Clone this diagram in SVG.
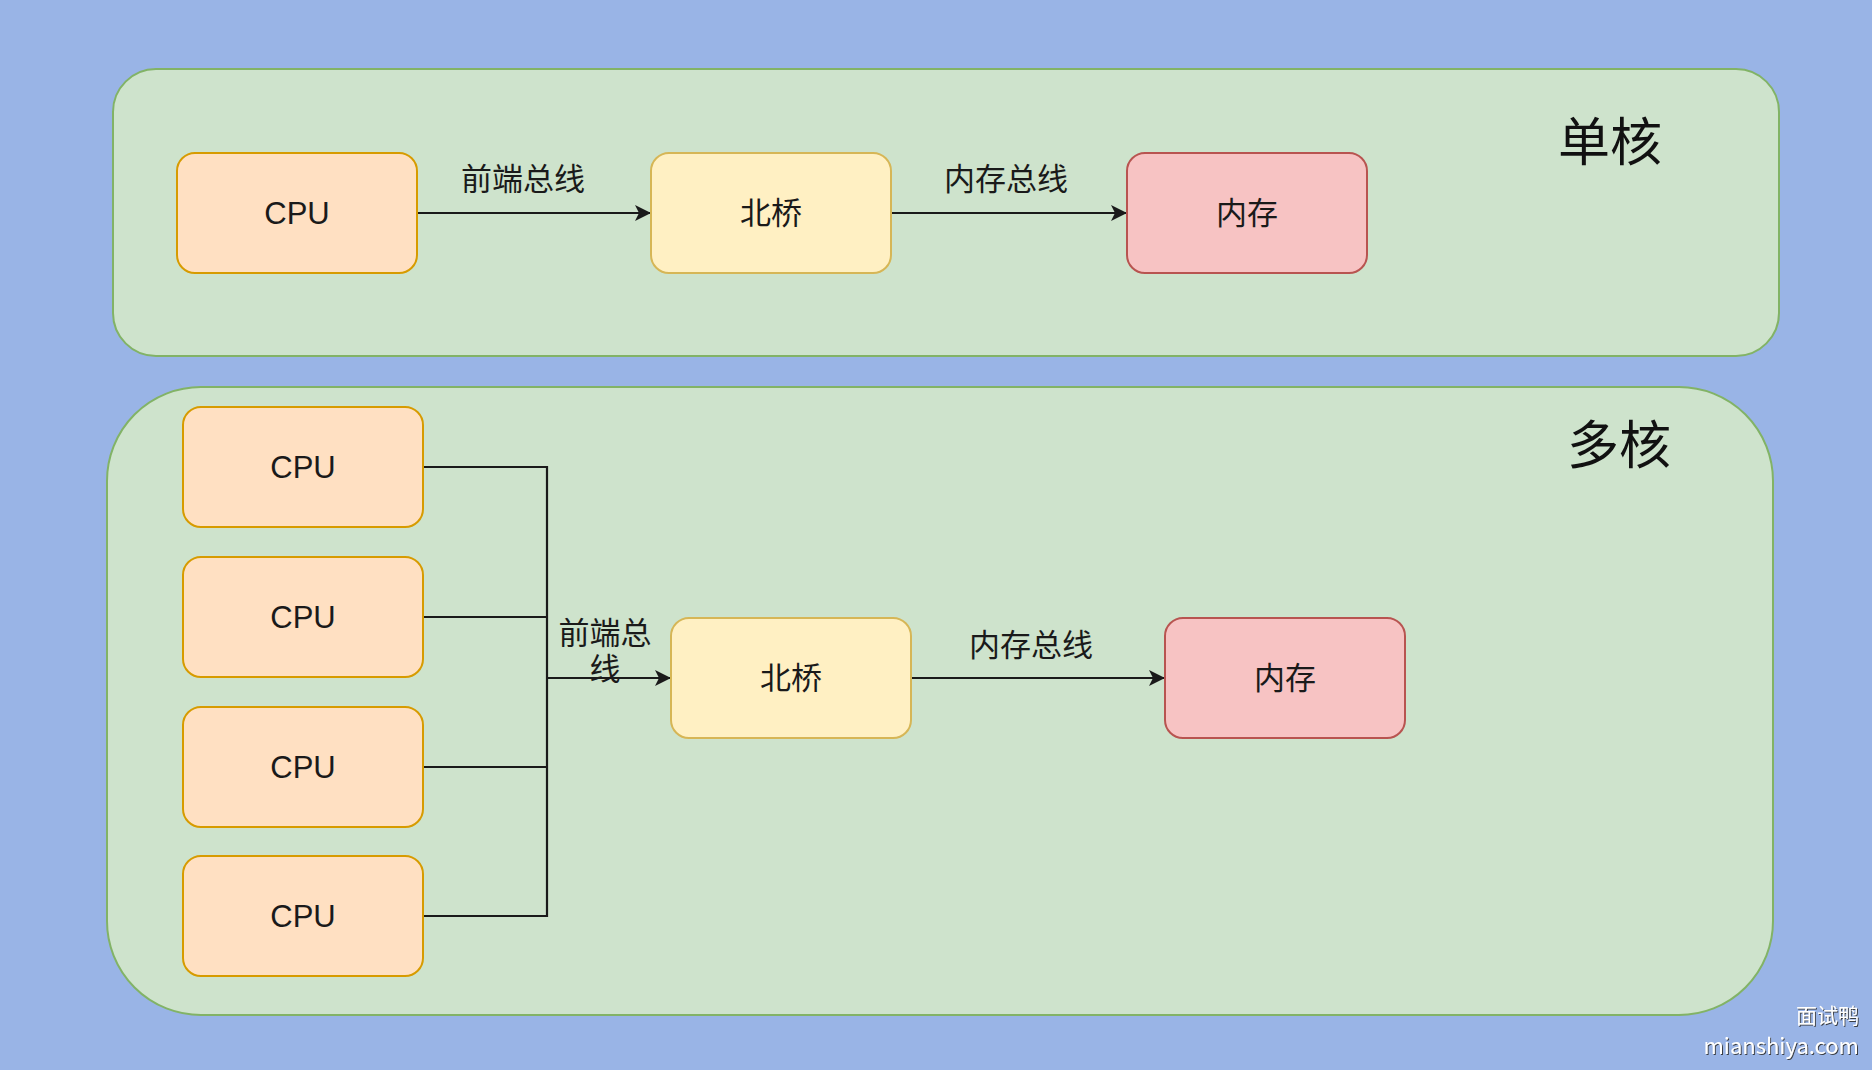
<svg xmlns="http://www.w3.org/2000/svg" width="1872" height="1070" viewBox="0 0 1872 1070">
<style>
.container{fill:#cee3cc;stroke:#82b366;stroke-width:2}
.cpu{fill:#ffe0c2;stroke:#d79b00;stroke-width:2}
.nb{fill:#fff0c3;stroke:#d6b656;stroke-width:2}
.mem{fill:#f7c3c3;stroke:#b85450;stroke-width:2}
.lbl{font-family:"Liberation Sans","Noto Sans CJK SC",sans-serif;font-size:31px;fill:#1a1a1a;text-anchor:middle;dominant-baseline:central}
.title{font-family:"Noto Sans CJK SC",sans-serif;font-size:52px;fill:#111;text-anchor:middle;dominant-baseline:central}
.edge{fill:none;stroke:#1a1a1a;stroke-width:2.2}
.wm{font-family:"Noto Sans CJK SC","Liberation Sans",sans-serif;fill:#ffffff;text-anchor:end;filter:url(#sh)}
</style>
<defs>
<marker id="arr" markerUnits="userSpaceOnUse" markerWidth="18" markerHeight="18" refX="16" refY="8" orient="auto">
<path d="M0,0 L16,8 L0,16 L4,8 z" fill="#1a1a1a"/>
</marker>
<filter id="sh" x="-10%" y="-30%" width="120%" height="160%">
<feDropShadow dx="1" dy="1" stdDeviation="0.6" flood-color="#333" flood-opacity="0.9"/>
</filter>
</defs>
<rect width="1872" height="1070" fill="#99b4e6"/>
<g id="single-core">
<rect class="container" x="113" y="69" width="1666" height="287" rx="43"/>
<text class="title" x="1610" y="138">单核</text>
</g>
<g id="multi-core">
<rect class="container" x="107" y="387" width="1666" height="628" rx="94"/>
<text class="title" x="1619" y="441">多核</text>
</g>
<g id="connectors">
<line class="edge" x1="417" y1="213" x2="651" y2="213" marker-end="url(#arr)"/>
<text class="lbl" x="523" y="179">前端总线</text>
<line class="edge" x1="891" y1="213" x2="1127" y2="213" marker-end="url(#arr)"/>
<text class="lbl" x="1006" y="179">内存总线</text>
<polyline class="edge" points="423,467 547,467 547,916 423,916"/>
<line class="edge" x1="423" y1="617" x2="547" y2="617"/>
<line class="edge" x1="423" y1="767" x2="547" y2="767"/>
<line class="edge" x1="547" y1="678" x2="671" y2="678" marker-end="url(#arr)"/>
<text class="lbl" x="605" y="633">前端总</text>
<text class="lbl" x="605" y="669">线</text>
<line class="edge" x1="911" y1="678" x2="1165" y2="678" marker-end="url(#arr)"/>
<text class="lbl" x="1031" y="645">内存总线</text>
</g>
<g id="cpu-top">
<rect class="cpu" x="177" y="153" width="240" height="120" rx="18"/>
<text class="lbl" x="297" y="213">CPU</text>
</g>
<g id="nb-top">
<rect class="nb" x="651" y="153" width="240" height="120" rx="18"/>
<text class="lbl" x="771" y="213">北桥</text>
</g>
<g id="mem-top">
<rect class="mem" x="1127" y="153" width="240" height="120" rx="18"/>
<text class="lbl" x="1247" y="213">内存</text>
</g>
<g id="cpu1">
<rect class="cpu" x="183" y="407" width="240" height="120" rx="18"/>
<text class="lbl" x="303" y="467">CPU</text>
</g>
<g id="cpu2">
<rect class="cpu" x="183" y="557" width="240" height="120" rx="18"/>
<text class="lbl" x="303" y="617">CPU</text>
</g>
<g id="cpu3">
<rect class="cpu" x="183" y="707" width="240" height="120" rx="18"/>
<text class="lbl" x="303" y="767">CPU</text>
</g>
<g id="cpu4">
<rect class="cpu" x="183" y="856" width="240" height="120" rx="18"/>
<text class="lbl" x="303" y="916">CPU</text>
</g>
<g id="nb-bottom">
<rect class="nb" x="671" y="618" width="240" height="120" rx="18"/>
<text class="lbl" x="791" y="678">北桥</text>
</g>
<g id="mem-bottom">
<rect class="mem" x="1165" y="618" width="240" height="120" rx="18"/>
<text class="lbl" x="1285" y="678">内存</text>
</g>
<g id="watermark">
<text class="wm" x="1859" y="1023" font-size="21">面试鸭</text>
<text class="wm" x="1859" y="1054" font-size="22">mianshiya.com</text>
</g>
</svg>
